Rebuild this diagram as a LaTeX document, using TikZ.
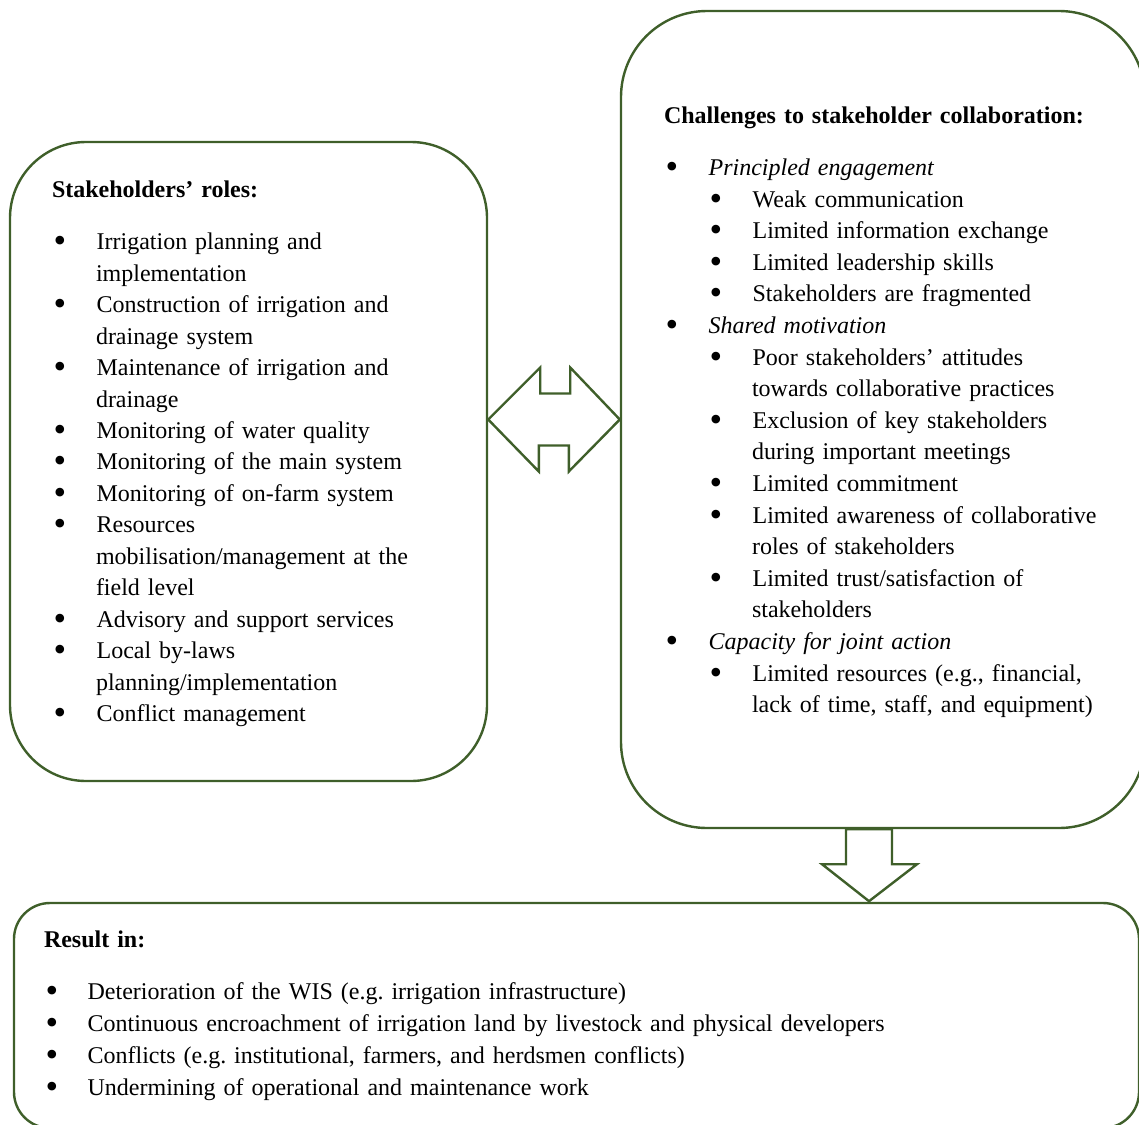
\documentclass[tikz,border=0pt]{standalone}
\usepackage{fontspec}
\setmainfont{Liberation Serif}
\usepackage{enumitem}
\usetikzlibrary{positioning,calc}
\definecolor{framegreen}{HTML}{3F5F2A}
\newcommand{\bigbullet}{\raisebox{-3pt}[0pt][0pt]{\scalebox{1.5}{\textbullet}}}
\setlist[itemize]{nosep, leftmargin=44pt, labelwidth=12pt, labelsep=30.5pt,
  align=left, label=\bigbullet}
\frenchspacing

\begin{document}
\begin{tikzpicture}[
  x=1pt, y=-1pt,
  roundbox/.style={draw=framegreen, line width=2.4pt, rounded corners=#1},
  roundbox/.default=40pt,
  txt/.style={inner sep=0pt, anchor=base west, align=left,
    font=\fontsize{24}{#1}\selectfont},
  txt/.default=31.6pt,
  blockarrow/.style={draw=framegreen, line width=2.4pt, fill=white,
    line join=miter}
]
\useasboundingbox (0,0) rectangle (1139,1124);

% the three frames
\node[roundbox=76pt, minimum width=477pt, minimum height=639pt] (roles) at (248.5,461.5) {};
\node[roundbox=86pt, minimum width=524pt, minimum height=817pt] (chal) at (883,419.5) {};
\node[roundbox=36pt, minimum width=1125pt, minimum height=225pt] (result) at (576.5,1015.5) {};

% texts
\node[txt=31.45pt, text width=420pt] (rolestxt) at ([shift={(43,56.5)}]roles.north west) {%
  \textbf{Stakeholders’ roles:}\par\vspace{21pt}
  \begin{itemize}
    \item Irrigation planning and\\ implementation
    \item Construction of irrigation and\\ drainage system
    \item Maintenance of irrigation and\\ drainage
    \item Monitoring of water quality
    \item Monitoring of the main system
    \item Monitoring of on-farm system
    \item Resources\\ mobilisation/management at the\\ field level
    \item Advisory and support services
    \item Local by-laws\\ planning/implementation
    \item Conflict management
  \end{itemize}};

\node[txt=31.6pt, text width=470pt] (chaltxt) at ([shift={(44,113.5)}]chal.north west) {%
  \textbf{Challenges to stakeholder collaboration:}\par\vspace{20.5pt}
  \begin{itemize}
    \item \textit{Principled engagement}
    \begin{itemize}
      \item Weak communication
      \item Limited information exchange
      \item Limited leadership skills
      \item Stakeholders are fragmented
    \end{itemize}
    \item \textit{Shared motivation}
    \begin{itemize}
      \item Poor stakeholders’ attitudes\\ towards collaborative practices
      \item Exclusion of key stakeholders\\ during important meetings
      \item Limited commitment
      \item Limited awareness of collaborative\\ roles of stakeholders
      \item Limited trust/satisfaction of\\ stakeholders
    \end{itemize}
    \item \textit{Capacity for joint action}
    \begin{itemize}
      \item Limited resources (e.g., financial,\\ lack of time, staff, and equipment)
    \end{itemize}
  \end{itemize}};

\node[txt=32pt, text width=1000pt] (resulttxt) at ([shift={(31,46)}]result.north west) {%
  \textbf{Result in:}\par\vspace{20pt}
  \begin{itemize}[leftmargin=43pt, labelsep=29.5pt]
    \item Deterioration of the WIS (e.g. irrigation infrastructure)
    \item Continuous encroachment of irrigation land by livestock and physical developers
    \item Conflicts (e.g. institutional, farmers, and herdsmen conflicts)
    \item Undermining of operational and maintenance work
  \end{itemize}};

% two-way arrow between the upper frames
\draw[blockarrow] (roles.east |- chal.west) -- ++(52,-52) -- ++(0,26)
  -- ++(30,0) -- ++(0,-26) -- (chal.west) -- ++(-51,52) -- ++(0,-26)
  -- ++(-30,0) -- ++(0,26) -- cycle;

% arrow down to the result frame
\coordinate (down) at ([xshift=-37pt]chal.south);
\draw[blockarrow] (down) -- ++(0,35) -- ++(-24,0) -- ++(47,37)
  -- ++(48,-37) -- ++(-25,0) -- ++(0,-35) -- cycle;
\end{tikzpicture}
\end{document}
